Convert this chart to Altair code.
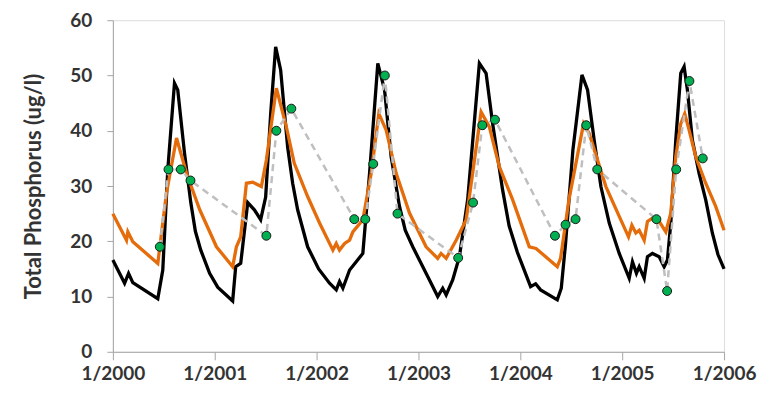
import altair as alt
import pandas as pd

# Simulated series 1 (black): decimal year, value (ug/l)
black_t = [2000.000, 2000.115, 2000.154, 2000.196, 2000.441, 2000.490, 2000.539, 2000.605, 2000.637,
           2000.703, 2000.765, 2000.810, 2000.863, 2000.950, 2001.029, 2001.176, 2001.206, 2001.255, 2001.324,
           2001.389, 2001.451, 2001.500, 2001.549, 2001.598, 2001.647, 2001.716, 2001.765, 2001.814, 2001.912,
           2002.020, 2002.127, 2002.193, 2002.225, 2002.258, 2002.324, 2002.389, 2002.454, 2002.520,
           2002.601, 2002.667, 2002.732, 2002.814, 2002.870, 2002.944, 2003.108, 2003.189, 2003.238, 2003.272,
           2003.336, 2003.402, 2003.483, 2003.598, 2003.664, 2003.728, 2003.826, 2003.890, 2003.971, 2004.101,
           2004.150, 2004.199, 2004.363, 2004.402, 2004.444, 2004.516, 2004.605, 2004.660, 2004.725,
           2004.791, 2004.873, 2004.971, 2005.069, 2005.101, 2005.140, 2005.167, 2005.216, 2005.248,
           2005.297, 2005.363, 2005.412, 2005.444, 2005.477, 2005.526, 2005.575, 2005.608, 2005.640,
           2005.689, 2005.755, 2005.820, 2005.885, 2005.940, 2006.000]
black_v = [16.6, 12.4, 14.2, 12.5, 9.6, 14.8, 32.9, 48.6, 47.4,
           36.0, 27.0, 21.8, 18.4, 14.2, 11.7, 9.2, 15.4, 16.0, 27.0,
           25.7, 23.9, 28.0, 43.0, 55.2, 51.0, 37.0, 30.5, 25.7, 19.0,
           15.0, 12.4, 11.2, 12.7, 11.5, 14.8, 16.3, 17.8, 32.3,
           52.2, 47.4, 35.3, 26.3, 22.0, 19.0, 13.0, 10.0, 11.5, 10.3,
           13.0, 17.2, 27.5, 52.2, 50.4, 41.3, 29.3, 22.8, 18.0, 11.8,
           12.3, 11.2, 9.4, 11.5, 19.6, 36.5, 50.1, 47.4, 38.3,
           29.9, 23.3, 17.8, 13.3, 16.3, 14.2, 15.4, 13.3, 17.2,
           17.8, 17.2, 15.4, 16.6, 23.3, 38.3, 50.4, 51.6, 47.4,
           38.3, 32.3, 27.5, 21.5, 17.6, 15.0]

# Simulated series 2 (orange)
orange_t = [2000.000, 2000.134, 2000.147, 2000.196, 2000.441, 2000.526, 2000.625, 2000.723, 2000.853,
            2001.017, 2001.176, 2001.213, 2001.255, 2001.311, 2001.373, 2001.458, 2001.507, 2001.605,
            2001.703, 2001.781, 2001.912, 2002.029, 2002.160, 2002.193, 2002.225, 2002.275, 2002.324,
            2002.356, 2002.454, 2002.536, 2002.611, 2002.683, 2002.781, 2002.912, 2003.075, 2003.189,
            2003.222, 2003.272, 2003.370, 2003.468, 2003.532, 2003.615, 2003.696, 2003.794, 2003.925,
            2004.088, 2004.154, 2004.363, 2004.395, 2004.477, 2004.621, 2004.676, 2004.758, 2004.840,
            2004.971, 2005.062, 2005.095, 2005.134, 2005.167, 2005.216, 2005.248, 2005.297, 2005.363,
            2005.428, 2005.477, 2005.526, 2005.575, 2005.614, 2005.657, 2005.722, 2005.820, 2005.918,
            2006.000]
orange_v = [25.0, 20.2, 21.7, 19.9, 16.0, 28.7, 38.7, 32.3, 25.7,
            19.0, 15.4, 19.0, 20.8, 30.5, 30.7, 29.9, 34.7, 47.7,
            40.7, 34.1, 28.1, 23.3, 18.4, 19.6, 18.4, 19.6, 20.2,
            21.7, 23.9, 32.3, 43.1, 40.1, 32.3, 25.1, 19.0, 16.9,
            17.8, 16.9, 20.2, 23.9, 32.3, 43.4, 40.7, 33.5, 27.5,
            19.0, 18.7, 15.4, 16.9, 27.5, 41.3, 39.5, 34.7, 29.9,
            24.5, 20.8, 22.9, 21.5, 22.0, 20.2, 23.6, 24.2, 23.6,
            21.7, 25.1, 35.3, 41.3, 43.1, 40.1, 35.3, 30.5, 26.3,
            22.0]

# Observations (green dots)
obs_t = [2000.461, 2000.546, 2000.667, 2000.762, 2001.507, 2001.605, 2001.752, 2002.370, 2002.478,
         2002.556, 2002.670, 2002.794, 2003.390, 2003.536, 2003.627, 2003.751, 2004.340, 2004.444,
         2004.542, 2004.647, 2004.755, 2005.336, 2005.441, 2005.530, 2005.660, 2005.791]
obs_v = [19, 33, 33, 31, 21, 40, 44, 24, 24,
         34, 50, 25, 17, 27, 41, 42, 21, 23,
         24, 41, 33, 24, 11, 33, 49, 35]

black_df = pd.DataFrame({"t": black_t, "v": black_v})
orange_df = pd.DataFrame({"t": orange_t, "v": orange_v})
obs_df = pd.DataFrame({"t": obs_t, "v": obs_v})

FONT = "Lato"
TXT = "#333333"
x_enc = alt.X("t:Q", scale=alt.Scale(domain=[2000, 2006], nice=False),
              axis=alt.Axis(values=[2000, 2001, 2002, 2003, 2004, 2005, 2006],
                            labelExpr="'1/' + datum.value", title=None, grid=False,
                            tickSize=8, labelPadding=5, labelFontSize=19, labelFont=FONT,
                            labelFontWeight="bold", labelColor=TXT,
                            domainColor="#a6a6a6", tickColor="#a6a6a6", labelFlush=False))
y_enc = alt.Y("v:Q", scale=alt.Scale(domain=[0, 60], nice=False),
              axis=alt.Axis(values=[0, 10, 20, 30, 40, 50, 60], title="Total Phosphorus (ug/l)",
                            grid=False, tickSize=6, labelPadding=15, labelFontSize=19,
                            labelFont=FONT, labelFontWeight="bold", labelColor=TXT,
                            titleFont=FONT, titleFontSize=22, titleFontWeight="bold",
                            titleColor=TXT, titlePadding=24,
                            domainColor="#a6a6a6", tickColor="#a6a6a6"))

black_line = alt.Chart(black_df).mark_line(color="#000000", strokeWidth=3.3).encode(x=x_enc, y=y_enc)
orange_line = alt.Chart(orange_df).mark_line(color="#E46C0A", strokeWidth=3.3).encode(x="t:Q", y="v:Q")
obs_line = alt.Chart(obs_df).mark_line(color="#bfbfbf", strokeWidth=2.5, strokeDash=[7, 5]).encode(x="t:Q", y="v:Q")
obs_pts = alt.Chart(obs_df).mark_point(filled=True, shape="circle", size=80, fill="#00B050",
                                       stroke="#1a1a1a", strokeWidth=1, opacity=1).encode(x="t:Q", y="v:Q")

chart = alt.layer(black_line, orange_line, obs_line, obs_pts).properties(
    width=612, height=332,
    autosize=alt.AutoSizeParams(type="none"),
    padding={"left": 105, "top": 12, "right": 42, "bottom": 36},
).configure_view(stroke="#a6a6a6", strokeWidth=1).configure(background="white")

chart.save("out.html", embed_options={"renderer": "svg", "actions": False})
